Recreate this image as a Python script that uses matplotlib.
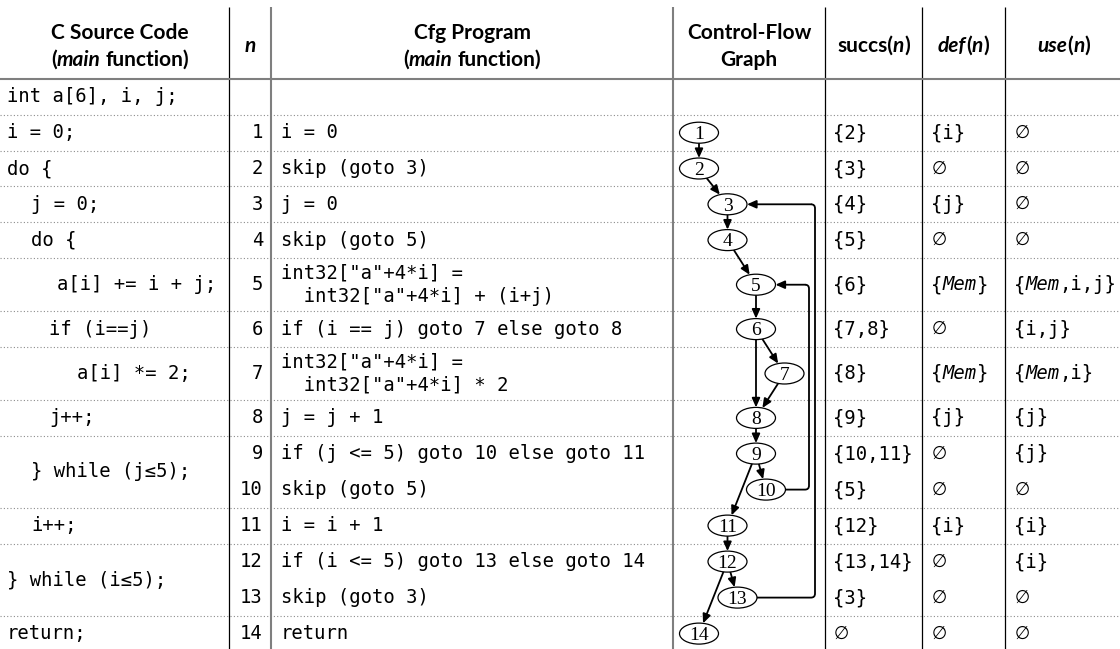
import numpy as np
import matplotlib
matplotlib.use('Agg')
import matplotlib.pyplot as plt
from matplotlib.patches import Ellipse, PathPatch
from matplotlib.path import Path

W, H = 1120, 649

# ---------------- table content ----------------
source_code = ["int a[6], i, j;", "i = 0;", "do {", "j = 0;", "do {", "a[i] += i + j;",
               "if (i==j)", "a[i] *= 2;", "j++;", "} while (j≤5);", "i++;",
               "} while (i≤5);", "return;"]
source_rows = [(0, 0), (1, 1), (2, 2), (3, 3), (4, 4), (5, 5), (6, 6), (7, 7), (8, 8),
               (9, 10), (11, 11), (12, 13), (14, 14)]
source_indent = [7, 7, 7, 31, 31, 57, 49, 77, 49, 31, 31, 7, 7]

node_ids = list(range(1, 15))
cfg_program = ["i = 0", "skip (goto 3)", "j = 0", "skip (goto 5)",
               'int32["a"+4*i] =\n  int32["a"+4*i] + (i+j)',
               "if (i == j) goto 7 else goto 8",
               'int32["a"+4*i] =\n  int32["a"+4*i] * 2',
               "j = j + 1", "if (j <= 5) goto 10 else goto 11", "skip (goto 5)",
               "i = i + 1", "if (i <= 5) goto 13 else goto 14", "skip (goto 3)", "return"]
succs = ["{2}", "{3}", "{4}", "{5}", "{6}", "{7,8}", "{8}", "{9}", "{10,11}", "{5}",
         "{12}", "{13,14}", "{3}", "∅"]
defs = ["{i}", "∅", "{j}", "∅", "{Mem}", "∅", "{Mem}", "{j}", "∅", "∅", "{i}", "∅", "∅", "∅"]
uses = ["∅", "∅", "∅", "∅", "{Mem,i,j}", "{i,j}", "{Mem,i}", "{j}", "{j}", "∅", "{i}",
        "{i}", "∅", "∅"]

# control-flow graph: horizontal level of each node, edges
node_level = [0, 0, 1, 1, 2, 2, 3, 2, 2, 2.35, 1, 1, 1.35, 0]
edges = [(1, 2), (2, 3), (3, 4), (4, 5), (5, 6), (6, 7), (6, 8), (7, 8), (8, 9),
         (9, 10), (9, 11), (11, 12), (12, 13), (12, 14)]
back_edges = [(10, 5, 809), (13, 3, 815)]

# ---------------- layout ----------------
row_h = [35.8, 35.8, 35.8, 35.8, 35.8, 53.4, 35.4, 53.4, 35.4, 36, 36, 36, 36, 36, 36]
tops = 79 + np.concatenate([[0], np.cumsum(row_h)])
centers = (tops[:-1] + tops[1:]) / 2
no_rule = {9, 12}       # rows merged with the next one

col_lines = [229, 271, 673, 825, 922, 1005]
col_gray = [False, True, True, False, False, False]

FS_CODE = 13.63
FS_HEAD = 15
CODE = ['DejaVu Sans Mono', 'DejaVu Sans']
HEAD = 'Lato'
CW = 0.60205 * FS_CODE * 100 / 72     # monospace advance in px
LINE_SP = 23.3

fig = plt.figure(figsize=(W / 100, H / 100), dpi=100)
fig.patch.set_facecolor('white')
ax = fig.add_axes([0, 0, 1, 1])
ax.set_xlim(0, W)
ax.set_ylim(H, 0)
ax.axis('off')
renderer = fig.canvas.get_renderer()


def text_width(s, **kw):
    t = ax.text(0, 0, s, **kw)
    w = t.get_window_extent(renderer).width
    t.remove()
    return w


def head_text(xc, y, parts):
    """Centred header line built from (text, italic?) pieces, all bold"""
    styled = []
    total = 0
    for s, italic in parts:
        kw = dict(family=HEAD, fontsize=FS_HEAD, fontweight='bold',
                  fontstyle='italic' if italic else 'normal')
        lead = len(s) - len(s.lstrip(' '))
        sp = text_width('x x', **kw) - text_width('xx', **kw)
        s = s.lstrip(' ')
        w = text_width(s, **kw)
        styled.append((s, kw, lead * sp, w))
        total += lead * sp + w
    x = xc - total / 2
    for s, kw, gap, w in styled:
        x += gap
        ax.text(x, y, s, ha='left', va='center', **kw)
        x += w


def code_text(x, y, s):
    """Monospace text; 'Mem' drawn oblique, empty set in a larger glyph"""
    if s == '∅':
        ax.text(x + 1, y, s, ha='left', va='center', family='DejaVu Sans',
                fontsize=FS_CODE - 1)
        return
    pos = 0
    for k, piece in enumerate(s.split('Mem')):
        if k > 0:
            ax.text(x + pos * CW, y, 'Mem', ha='left', va='center', family=CODE,
                    fontsize=FS_CODE, fontstyle='oblique')
            pos += 3
        if piece:
            ax.text(x + pos * CW, y, piece, ha='left', va='center', family=CODE,
                    fontsize=FS_CODE)
        pos += len(piece)


def cell_lines(x, yc, s):
    lines = s.split('\n')
    for k, ln in enumerate(lines):
        code_text(x, yc + (k - (len(lines) - 1) / 2) * LINE_SP, ln)


# ---------------- headers ----------------
head_text(120, 33, [("C Source Code", False)])
head_text(120, 60, [("(", False), ("main", True), (" function)", False)])
head_text(250, 46, [("n", True)])
head_text(472, 33, [("Cfg Program", False)])
head_text(472, 60, [("(", False), ("main", True), (" function)", False)])
head_text(749, 33, [("Control-Flow", False)])
head_text(749, 60, [("Graph", False)])
head_text(873.5, 46, [("succs(", False), ("n", True), (")", False)])
head_text(963.5, 46, [("def", True), ("(", False), ("n", True), (")", False)])
head_text(1064, 46, [("use", True), ("(", False), ("n", True), (")", False)])

# ---------------- rules ----------------
for x, gray in zip(col_lines, col_gray):
    ax.plot([x, x], [7, H], color='#7f7f7f' if gray else 'black',
            lw=1.5 if gray else 0.9, solid_capstyle='butt', zorder=1)
ax.plot([0, W], [tops[0], tops[0]], color='#7f7f7f', lw=1.5, zorder=1)
for r in range(len(row_h) - 1):
    if r in no_rule:
        continue
    ax.plot([0, W], [tops[r + 1], tops[r + 1]], color='#8c8c8c', lw=0.8,
            linestyle=(0, (1, 2)), zorder=0.5)

# ---------------- cells ----------------
for s, (r0, r1), ind in zip(source_code, source_rows, source_indent):
    code_text(ind, (tops[r0] + tops[r1 + 1]) / 2, s)

for k, n in enumerate(node_ids):
    r = k + 1
    y = centers[r]
    ax.text(263, y, str(n), ha='right', va='center', family=CODE, fontsize=FS_CODE)
    cell_lines(281, y, cfg_program[k])
    code_text(833, y, succs[k])
    code_text(931, y, defs[k])
    code_text(1014, y, uses[k])

# ---------------- control-flow graph ----------------
RX, RY = 19.5, 10.5
nx = {n: 699 + 28.5 * lv for n, lv in zip(node_ids, node_level)}
ny = {n: centers[n] for n in node_ids}


def on_ellipse(n, dx, dy):
    t = 1 / np.sqrt((dx / RX) ** 2 + (dy / RY) ** 2)
    return nx[n] + dx * t, ny[n] + dy * t


arrow = dict(arrowstyle='-|>,head_length=0.45,head_width=0.2', color='black',
             lw=1.3, mutation_scale=12, shrinkA=0, shrinkB=0)
for a, b in edges:
    dx, dy = nx[b] - nx[a], ny[b] - ny[a]
    ax.annotate('', xy=on_ellipse(b, -dx, -dy), xytext=on_ellipse(a, dx, dy),
                arrowprops=arrow, zorder=2)

# loop-back edges: out to the right, up, and back in, with rounded corners
R = 4
for a, b, xv in back_edges:
    x0, y0, y1 = nx[a] + RX, ny[a], ny[b]
    verts = [(x0, y0), (xv - R, y0), (xv, y0), (xv, y0 - R),
             (xv, y1 + R), (xv, y1), (xv - R, y1)]
    codes = [Path.MOVETO, Path.LINETO, Path.CURVE3, Path.CURVE3,
             Path.LINETO, Path.CURVE3, Path.CURVE3]
    ax.add_patch(PathPatch(Path(verts, codes), facecolor='none', edgecolor='black',
                           lw=1.3, zorder=2))
    ax.annotate('', xy=(nx[b] + RX, y1), xytext=(xv - R, y1), arrowprops=arrow,
                zorder=2)

for n in node_ids:
    ax.add_patch(Ellipse((nx[n], ny[n]), 2 * RX, 2 * RY, facecolor='white',
                         edgecolor='black', lw=0.9, zorder=3))
    ax.text(nx[n], ny[n] + 6.3, str(n), ha='center', va='baseline',
            family='Liberation Serif', fontsize=14, zorder=4)

fig.savefig('out.png', dpi=100, facecolor='white')
